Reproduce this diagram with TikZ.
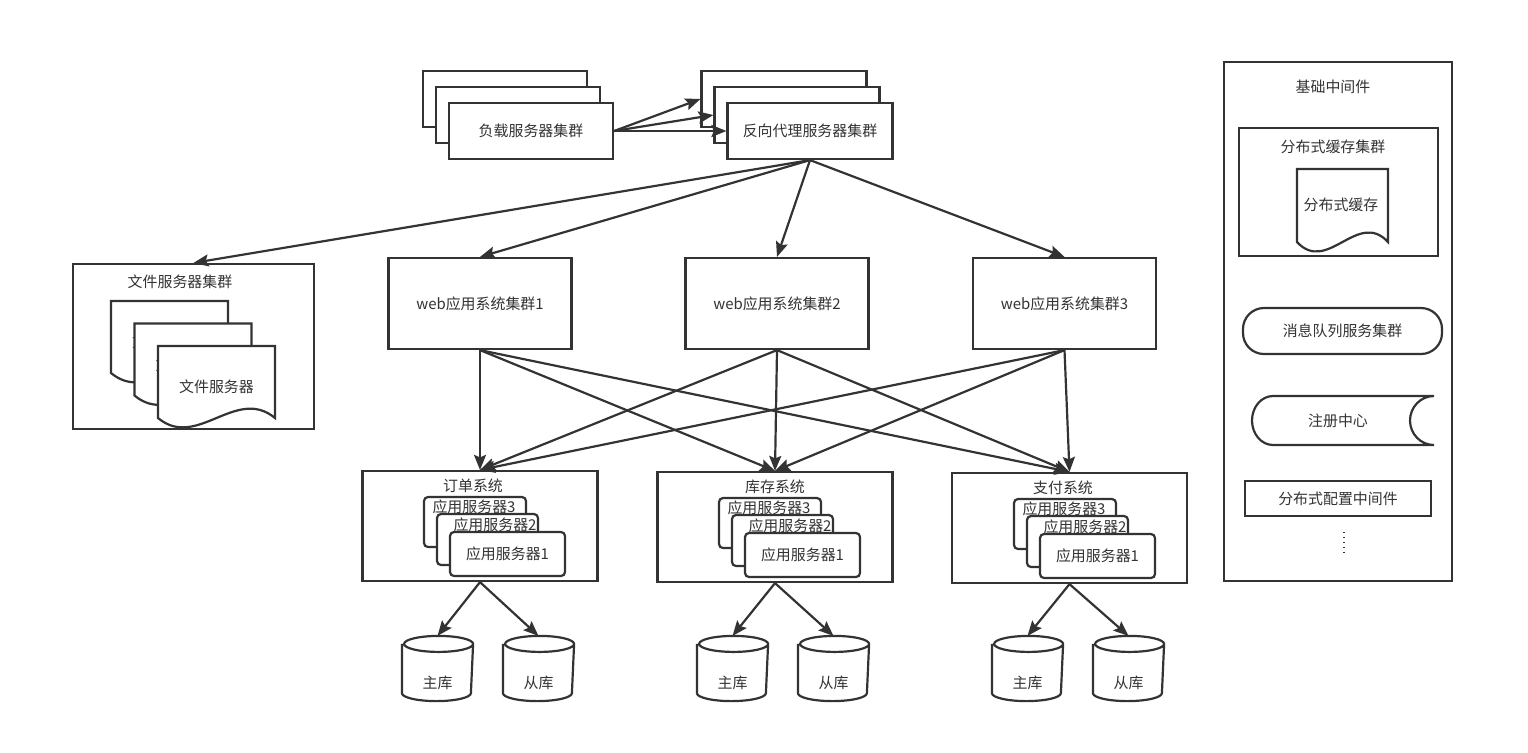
\documentclass[tikz,border=0pt]{standalone}
\usepackage{fontspec}
\setmainfont{Noto Sans CJK SC}
\usepackage{xcolor}
\usetikzlibrary{arrows.meta,calc}
\definecolor{linec}{HTML}{333333}

\newcommand{\docshape}[4]{%
  \draw[fill=white] (#1,-#4) -- (#1,-#2) -- (#3,-#2) -- (#3,-#4)
    .. controls ({#1+2*(#3-#1)/3},{-#4+0.45*(#4-#2)}) and ({#1+(#3-#1)/3},{-#4-0.45*(#4-#2)}) .. (#1,-#4) -- cycle;}
\newcommand{\dbshape}[1]{%
  \draw[fill=white] ($(#1.north west)+(0,-8)$) -- ($(#1.south west)+(0,8)$)
    arc[start angle=180,end angle=360,x radius=34.5,y radius=8]
    -- ($(#1.north east)+(0,-8)$)
    arc[start angle=0,end angle=180,x radius=34.5,y radius=8]
    arc[start angle=180,end angle=360,x radius=34.5,y radius=8];}

\begin{document}
\begin{tikzpicture}[
  x=0.02cm, y=0.02cm, color=linec, line width=1.25pt,
  font=\fontsize{8.5}{10}\selectfont,
  box/.style 2 args={draw,fill=white,inner sep=0pt,minimum width=#1*0.02cm,minimum height=#2*0.02cm},
  sbox/.style 2 args={box={#1}{#2},rounded corners=0.08cm},
  dbbox/.style={inner sep=0pt,minimum width=69*0.02cm,minimum height=63*0.02cm},
  lbl/.style={inner sep=0pt},
  arr/.style={-{Stealth[length=0.3cm,width=0.24cm,inset=0.05cm]}}
]
  \useasboundingbox (0,0) rectangle (1528,-752);

  \node[box={164}{56}] (lb3) at (505,-99) {};
  \node[box={164}{56}] (lb2) at (518,-115) {};
  \node[box={164}{56}] (lb) at (531,-131) {负载服务器集群};
  \node[box={165}{56}] (px3) at (784,-99) {};
  \node[box={165}{56}] (px2) at (797,-115) {};
  \node[box={165}{56}] (px) at (810,-131) {反向代理服务器集群};
  \draw[arr] (lb.east) -- (px3.west);
  \draw[arr] (lb.east) -- (px2.west);
  \draw[arr] (lb.east) -- (px.west);

  \node[box={241}{165}] (fs) at (193.5,-346.5) {};
  \node[lbl] (fs-t) at (180,-282) {文件服务器集群};
  \docshape{111}{301}{228}{373}
  \node[lbl] (fs-d3) at (169.5,-342) {文件服务器};
  \docshape{134.5}{323.5}{251.5}{395.5}
  \node[lbl] (fs-d2) at (193,-364.5) {文件服务器};
  \docshape{158}{346}{275}{418}
  \node[lbl] (fs-d1) at (216.5,-387) {文件服务器};

  \node[box={183}{91}] (web1) at (480,-303.5) {web应用系统集群1};
  \node[box={183}{91}] (web2) at (777,-303.5) {web应用系统集群2};
  \node[box={183}{91}] (web3) at (1064.5,-303.5) {web应用系统集群3};
  \draw[arr] (px.south) -- (fs.north);
  \draw[arr] (px.south) -- (web1.north);
  \draw[arr] (px.south) -- (web2.north);
  \draw[arr] (px.south) -- (web3.north);

  \node[box={235}{110}] (order) at (480,-526) {};
  \node[lbl] (order-t) at (473,-486) {订单系统};
  \node[sbox={102}{50}] (order-s3) at (475,-522) {};
  \node[lbl] (order-t3) at (474,-507) {应用服务器3};
  \node[sbox={101}{51}] (order-s2) at (487.5,-539.5) {};
  \node[lbl] (order-t2) at (495,-525) {应用服务器2};
  \node[sbox={115}{44}] (order-s1) at (507.5,-554) {应用服务器1};

  \node[box={235}{110}] (stock) at (775,-527) {};
  \node[lbl] (stock-t) at (775,-487) {库存系统};
  \node[sbox={102}{50}] (stock-s3) at (770,-523) {};
  \node[lbl] (stock-t3) at (769,-508) {应用服务器3};
  \node[sbox={101}{51}] (stock-s2) at (782.5,-540.5) {};
  \node[lbl] (stock-t2) at (790,-526) {应用服务器2};
  \node[sbox={115}{44}] (stock-s1) at (802.5,-555) {应用服务器1};

  \node[box={235}{110}] (pay) at (1069.5,-528) {};
  \node[lbl] (pay-t) at (1063,-488) {支付系统};
  \node[sbox={102}{50}] (pay-s3) at (1065,-524) {};
  \node[lbl] (pay-t3) at (1064,-509) {应用服务器3};
  \node[sbox={101}{51}] (pay-s2) at (1077.5,-541.5) {};
  \node[lbl] (pay-t2) at (1085,-527) {应用服务器2};
  \node[sbox={115}{44}] (pay-s1) at (1097.5,-556) {应用服务器1};

  \draw[arr] (web1.south) -- (order.north);
  \draw[arr] (web1.south) -- (stock.north);
  \draw[arr] (web1.south) -- (pay.north);
  \draw[arr] (web2.south) -- (order.north);
  \draw[arr] (web2.south) -- (stock.north);
  \draw[arr] (web2.south) -- (pay.north);
  \draw[arr] (web3.south) -- (order.north);
  \draw[arr] (web3.south) -- (stock.north);
  \draw[arr] (web3.south) -- (pay.north);

  \node[dbbox] (order-m) at (437.5,-668.5) {};
  \node[dbbox] (order-r) at (538.5,-668.5) {};
  \node[dbbox] (stock-m) at (732.5,-668.5) {};
  \node[dbbox] (stock-r) at (833.5,-668.5) {};
  \node[dbbox] (pay-m) at (1027.5,-668.5) {};
  \node[dbbox] (pay-r) at (1128.5,-668.5) {};
  \dbshape{order-m} \dbshape{order-r}
  \dbshape{stock-m} \dbshape{stock-r}
  \dbshape{pay-m} \dbshape{pay-r}
  \node[lbl] (order-mt) at (437.5,-683) {主库};
  \node[lbl] (order-rt) at (538.5,-683) {从库};
  \node[lbl] (stock-mt) at (732.5,-683) {主库};
  \node[lbl] (stock-rt) at (833.5,-683) {从库};
  \node[lbl] (pay-mt) at (1027.5,-683) {主库};
  \node[lbl] (pay-rt) at (1128.5,-683) {从库};
  \draw[arr] (order.south) -- (order-m.north);
  \draw[arr] (order.south) -- (order-r.north);
  \draw[arr] (stock.south) -- (stock-m.north);
  \draw[arr] (stock.south) -- (stock-r.north);
  \draw[arr] (pay.south) -- (pay-m.north);
  \draw[arr] (pay.south) -- (pay-r.north);

  \node[box={228}{519}] (mw) at (1338,-321.5) {};
  \node[lbl] (mw-t) at (1333,-87) {基础中间件};
  \node[box={199}{128}] (cache) at (1338.5,-192) {};
  \node[lbl] (cache-t) at (1333,-147) {分布式缓存集群};
  \docshape{1297}{169}{1388}{242}
  \node[lbl] (cache-d) at (1341,-205) {分布式缓存};
  \node[box={199}{46},rounded corners=0.42cm] (mq) at (1342.5,-331) {消息队列服务集群};
  \draw[fill=white] (1434,-396) -- (1273,-396) arc[start angle=90,end angle=270,x radius=21,y radius=24.5]
    -- (1434,-445) arc[start angle=270,end angle=90,x radius=24,y radius=24.5];
  \node[lbl] (reg) at (1338,-421) {注册中心};
  \node[box={186}{35}] (cfg) at (1338,-498.5) {分布式配置中间件};
  \draw[dotted,line width=0.8pt] (1344,-532) -- (1344,-556);
\end{tikzpicture}
\end{document}
